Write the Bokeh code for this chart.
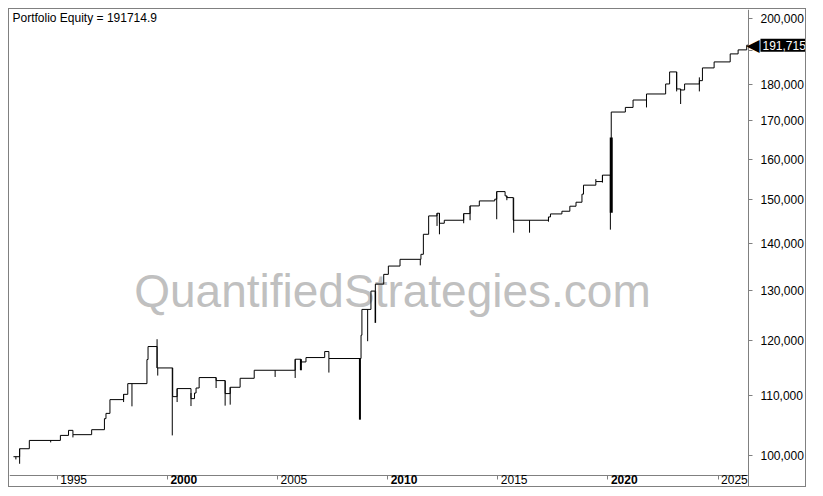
from bokeh.plotting import figure
from bokeh.models import Range1d, FixedTicker, NumeralTickFormatter, Label
from bokeh.embed import file_html
from bokeh.resources import INLINE

title_text = "Portfolio Equity = 191714.9"
last_value = 191714.9
last_label = "191,715"
watermark = "QuantifiedStrategies.com"

year_ticks = [1995, 2000, 2005, 2010, 2015, 2020, 2025]
bold_years = [2000, 2010, 2020]
equity_ticks = [100000, 110000, 120000, 130000, 140000, 150000,
                160000, 170000, 180000, 190000, 200000]

# step levels of the equity curve (start date of each level, equity)
step_dates = [1993.01, 1993.29, 1993.73, 1995.14, 1995.51, 1995.71, 1996.56,
              1997.14, 1997.21, 1997.39, 1998.01, 1998.20, 1999.07, 1999.12,
              1999.53, 2000.24, 2000.44, 2001.07, 2001.23, 2001.30, 2001.44,
              2002.21, 2002.62, 2002.85, 2003.30, 2003.94, 2005.80, 2006.06,
              2006.29, 2007.14, 2007.33, 2008.79, 2008.83, 2009.24, 2009.44,
              2009.82, 2010.03, 2010.56, 2011.51, 2011.62, 2011.86, 2012.24,
              2012.35, 2012.57, 2013.45, 2013.74, 2014.16, 2014.86, 2014.95,
              2015.33, 2015.41, 2015.70, 2017.30, 2017.39, 2017.91, 2018.27,
              2018.55, 2018.82, 2018.89, 2019.45, 2019.75, 2020.15, 2020.79,
              2021.14, 2021.75, 2022.62, 2022.80, 2023.12, 2023.30, 2023.48,
              2024.15, 2024.29, 2024.82, 2025.55, 2025.91, 2026.30, 2026.38]
step_equity = [99800, 101070, 102410, 103230, 104060, 103350, 104170,
               106010, 106900, 109260, 110180, 112070, 116430, 118860,
               114890, 109780, 111190, 109430, 110410, 111290, 113150,
               112610, 110310, 111420, 113020, 114470, 116490, 115990,
               116800, 117920, 116620, 121020, 126070, 129790, 131240,
               133280, 135050, 136500, 137590, 142030, 146230, 146850,
               144540, 145230, 146760, 148570, 149750, 150160, 151980,
               150950, 150540, 145230, 145990, 146690, 147320, 148500,
               149440, 151360, 153540, 154420, 156000, 172430, 173700,
               175750, 177440, 180280, 183760, 178860, 178570, 180280,
               181230, 184930, 186700, 189090, 190300, 191715, 191715]

# thin intra-period spikes (date, low, high)
spike_dates = [1993.12, 1993.29, 1994.70, 1995.71, 1998.01, 1998.39, 1999.53,
               1999.56, 2000.22, 2000.44, 2001.07, 2002.21, 2002.62, 2002.85,
               2004.89, 2005.80, 2007.33, 2009.09, 2011.48, 2012.24, 2012.35,
               2013.45, 2013.74, 2014.95, 2015.41, 2015.72, 2016.44, 2017.30,
               2019.45, 2019.75, 2020.11, 2021.75, 2023.12, 2023.30, 2024.15]
spike_low = [99370, 98690, 102090, 102900, 108840, 108100, 114890,
             113510, 103230, 108840, 108150, 111290, 108220, 108390,
             113260, 113080, 114050, 119870, 135200, 143920, 142030,
             144540, 145230, 145460, 149920, 142390, 142390, 144900,
             154420, 154170, 143080, 173700, 178170, 174640, 178170]
spike_high = [99800, 101070, 102410, 103350, 110180, 112070, 120250,
              114890, 114890, 111190, 110410, 113150, 112610, 111420,
              114470, 116490, 116620, 126070, 136500, 146850, 146850,
              146760, 148570, 151980, 150950, 150540, 145230, 145990,
              155010, 156000, 156000, 175750, 183760, 178860, 182180]

# heavy spikes (date, low, high)
heavy_dates = [2006.06, 2008.74, 2009.44, 2020.15]
heavy_low = [114470, 105840, 123410, 146990]
heavy_high = [116490, 116620, 129790, 165600]
heavy_width = [2, 2, 1.5, 3]

# view extents: chart area edge and the axis positions
X_START, X_AXIS, X_END = 1992.83, 2026.38, 2029.06
Y_BOTTOM, Y_AXIS, Y_TOP = 94890, 96870, 202890

FONT = "Liberation Sans"
GRAY = "#808080"

p = figure(width=798, height=479, output_backend="svg", toolbar_location=None,
           y_axis_type="log", y_axis_location="right", x_axis_location="below",
           x_range=Range1d(X_START, X_END), y_range=Range1d(Y_BOTTOM, Y_TOP),
           min_border=0)
p.styles = {"margin-left": "8px", "margin-top": "8px",
            "border": "1px solid #808080"}
p.outline_line_color = None
p.xgrid.grid_line_color = None
p.ygrid.grid_line_color = None
p.background_fill_color = "white"
p.border_fill_color = "white"

ya = p.yaxis[0]
ya.fixed_location = X_AXIS
ya.ticker = FixedTicker(ticks=equity_ticks, minor_ticks=[])
ya.formatter = NumeralTickFormatter(format="0,0")
ya.major_label_overrides = {190000: ""}
ya.axis_line_color = GRAY
ya.major_tick_line_color = GRAY
ya.major_tick_in = 0
ya.major_tick_out = 4
ya.minor_tick_line_color = None
ya.major_label_standoff = 8
ya.major_label_text_font = FONT
ya.major_label_text_font_size = "12px"
ya.major_label_text_color = "black"

xa = p.xaxis[0]
xa.fixed_location = Y_AXIS
xa.bounds = (X_START, X_AXIS)
xa.ticker = FixedTicker(ticks=year_ticks, minor_ticks=[])
xa.major_label_overrides = {yr: "" for yr in year_ticks}
xa.axis_line_color = GRAY
xa.major_tick_line_color = GRAY
xa.major_tick_in = 0
xa.major_tick_out = 4
xa.minor_tick_line_color = None
xa.major_label_standoff = 0

# watermark (under the curve)
p.add_layout(Label(x=383, y=198, x_units="screen", y_units="screen",
                   text=watermark, text_align="center",
                   text_baseline="middle", text_font=FONT,
                   text_font_size="46px", text_color="#c0c0c0",
                   level="underlay"))

p.step(step_dates, step_equity, mode="after", line_color="black", line_width=1)
p.segment(x0=spike_dates, y0=spike_low, x1=spike_dates, y1=spike_high,
          line_color="black", line_width=1)
p.segment(x0=heavy_dates, y0=heavy_low, x1=heavy_dates, y1=heavy_high,
          line_color="black", line_width=heavy_width)

# title inside the chart
p.add_layout(Label(x=X_START, y=Y_TOP, x_offset=3, y_offset=-1,
                   text=title_text, text_baseline="top", text_font=FONT,
                   text_font_size="12px", text_color="black"))

# year labels (right of the tick marks, some in bold)
for yr in year_ticks:
    p.add_layout(Label(x=yr, y=Y_AXIS, x_offset=3, y_offset=0,
                       text=str(yr), text_baseline="top",
                       text_font=FONT, text_font_size="12px",
                       text_color="black",
                       text_font_style="bold" if yr in bold_years else "normal"))

# last value marker on the price axis
p.add_layout(Label(x=X_AXIS, y=last_value, x_offset=11,
                   text="\u25C0", text_align="right", text_baseline="middle",
                   text_font="DejaVu Sans", text_font_size="17px",
                   text_color="black"))
p.add_layout(Label(x=X_AXIS, y=last_value, x_offset=12,
                   text=last_label, text_baseline="middle", text_font=FONT,
                   text_font_size="12px", text_color="white",
                   background_fill_color="black", padding=2))

open("out.html", "w").write(file_html(p, INLINE))
